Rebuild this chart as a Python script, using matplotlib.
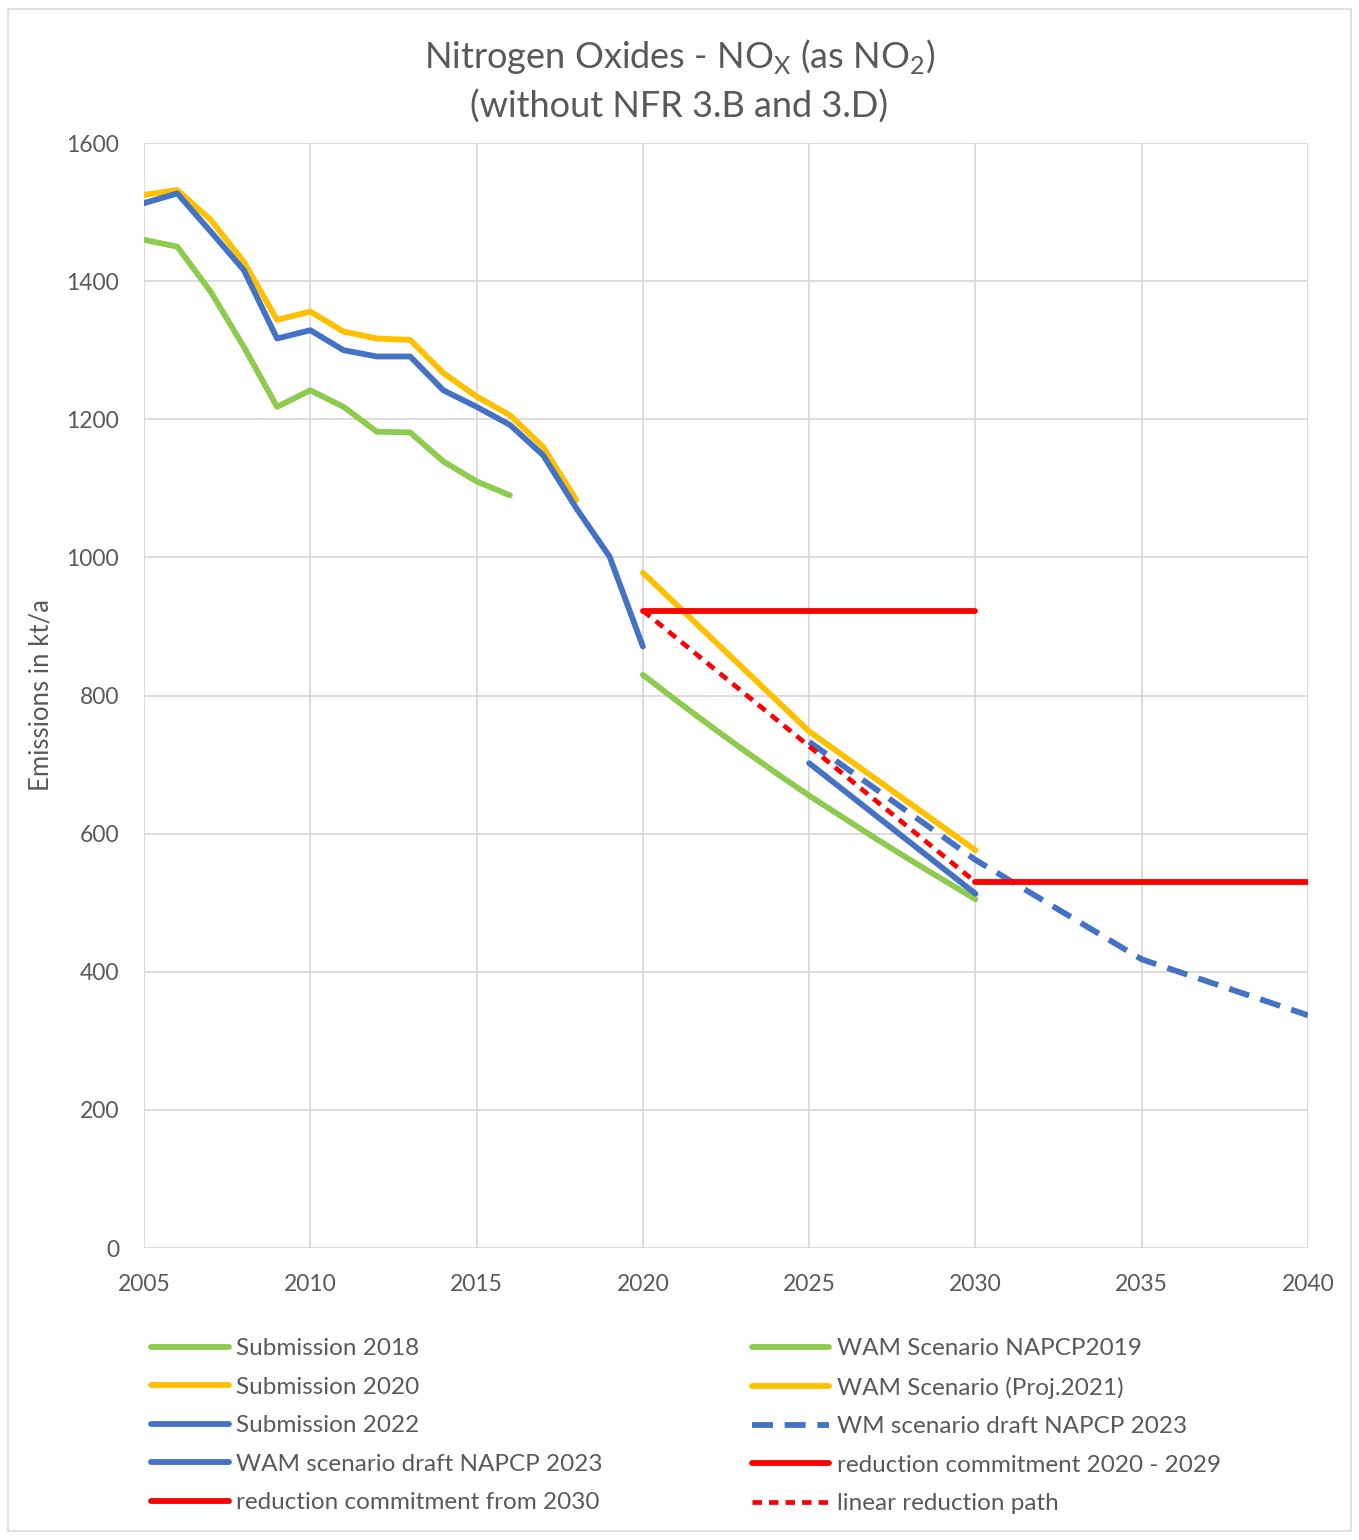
import matplotlib.pyplot as plt
from matplotlib.patches import Rectangle
import numpy as np

# === Data (kt/a) ===
years_sub2018 = list(range(2005, 2017))
sub2018 = [1460, 1450, 1385, 1305, 1218, 1242, 1218, 1182, 1181, 1139, 1110, 1090]

years_sub2020 = list(range(2005, 2019))
sub2020 = [1525, 1532, 1489, 1428, 1344, 1356, 1327, 1317, 1315, 1267, 1233, 1206, 1160, 1083]

years_sub2022 = list(range(2005, 2021))
sub2022 = [1513, 1527, 1472, 1416, 1317, 1329, 1300, 1291, 1291, 1242, 1218, 1192, 1148,
           1071, 1001, 871]

years_wam2019 = list(range(2020, 2031))
wam2019 = [830, 793, 757, 722, 688, 655, 624, 593, 563, 534, 505]

years_wam2021 = [2020, 2025, 2030]
wam2021 = [978, 748, 576]

years_wm2023 = [2025, 2030, 2035, 2040]
wm2023 = [733, 562, 418, 337]

years_wam2023 = [2025, 2030]
wam2023 = [702, 513]

years_commit2020 = [2020, 2030]
commit2020 = [923, 923]

years_commit2030 = [2030, 2040]
commit2030 = [530, 530]

years_linear = [2020, 2030]
linear_path = [923, 530]

# === Style ===
GREEN = "#8DCB4F"
ORANGE = "#FFC000"
BLUE = "#4472C4"
RED = "#FF0000"
GRID = "#D9D9D9"
TEXT = "#595959"
plt.rcParams["font.family"] = ["Lato", "DejaVu Sans"]

fig = plt.figure(figsize=(13.59, 15.4), dpi=100)
fig.patches.append(Rectangle((0.006, 0.006), 0.988, 0.988, transform=fig.transFigure,
                             fill=False, edgecolor="#D9D9D9", linewidth=1.2))
ax = fig.add_axes([0.106, 0.1896, 0.8565, 0.7175])

lw = 4.2
kw = dict(linewidth=lw, solid_capstyle="round", dash_capstyle="butt")
h1, = ax.plot(years_sub2018, sub2018, color=GREEN, **kw)
h2, = ax.plot(years_sub2020, sub2020, color=ORANGE, **kw)
h3, = ax.plot(years_sub2022, sub2022, color=BLUE, **kw)
h5, = ax.plot(years_wam2019, wam2019, color=GREEN, **kw)
h6, = ax.plot(years_wam2021, wam2021, color=ORANGE, **kw)
h7, = ax.plot(years_wm2023, wm2023, color=BLUE, linestyle=(0, (3.6, 2.0)), **kw)
h4, = ax.plot(years_wam2023, wam2023, color=BLUE, **kw)
h8, = ax.plot(years_commit2020, commit2020, color=RED, **kw)
h9, = ax.plot(years_commit2030, commit2030, color=RED, **kw)
h10, = ax.plot(years_linear, linear_path, color=RED, linestyle=(0, (2.0, 1.5)),
               linewidth=3.4, dash_capstyle="butt")

ax.set_xlim(2005, 2040)
ax.set_ylim(0, 1600)
ax.set_xticks(np.arange(2005, 2041, 5))
ax.set_yticks(np.arange(0, 1601, 200))
ax.grid(True, color=GRID, linewidth=1.3)
ax.set_axisbelow(True)
for s in ax.spines.values():
    s.set_visible(False)
ax.tick_params(length=0, labelsize=16.5, labelcolor=TEXT)
ax.tick_params(axis="x", pad=19)
ax.tick_params(axis="y", pad=18)
ax.set_ylabel("Emissions in kt/a", fontsize=18.5, color=TEXT, labelpad=9)

fig.text(0.5, 0.963, r"Nitrogen Oxides - NO$_\mathregular{X}$ (as NO$_\mathregular{2}$)",
         ha="center", va="center", fontsize=26, color=TEXT)
fig.text(0.5, 0.931, "(without NFR 3.B and 3.D)", ha="center", va="center",
         fontsize=26, color=TEXT)

lkw = dict(frameon=False, fontsize=17.5, labelcolor=TEXT, handlelength=3.2,
           handletextpad=0.3, labelspacing=0.72, borderaxespad=0, borderpad=0,
           loc="upper left")
leg1 = fig.legend([h1, h2, h3, h4, h9],
                  ["Submission 2018", "Submission 2020", "Submission 2022",
                   "WAM scenario draft NAPCP 2023", "reduction commitment from 2030"],
                  bbox_to_anchor=(0.111, 0.131), **lkw)
leg2 = fig.legend([h5, h6, h7, h8, h10],
                  ["WAM Scenario NAPCP2019", "WAM Scenario (Proj.2021)",
                   "WM scenario draft NAPCP 2023", "reduction commitment 2020 - 2029",
                   "linear reduction path"],
                  bbox_to_anchor=(0.553, 0.131), **lkw)

fig.savefig("out.png", dpi=100, facecolor="white")
